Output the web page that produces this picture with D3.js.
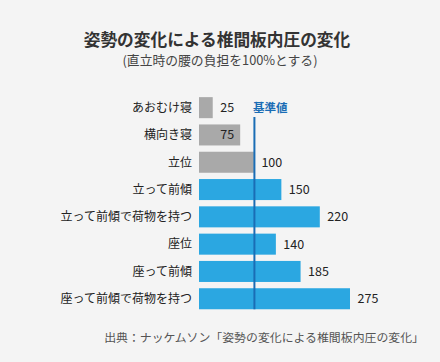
<!DOCTYPE html>
<html>
<head>
<meta charset="utf-8">
<script src="https://cdn.jsdelivr.net/npm/d3@7"></script>
<style>
  body { margin: 0; background: #f4f4f4; }
  svg { display: block; font-family: "Noto Sans CJK JP", "Noto Sans", sans-serif; }
</style>
</head>
<body>
<div id="chart"></div>
<script>
// posture names and pressure (standing = 100)
var postures = ["あおむけ寝", "横向き寝", "立位", "立って前傾", "立って前傾で荷物を持つ", "座位", "座って前傾", "座って前傾で荷物を持つ"]
var pressures = [25, 75, 100, 150, 220, 140, 185, 275]
var baseValue = 100

var W = 440, H = 362

var svg = d3.select("#chart").append("svg")
  .attr("width", W)
  .attr("height", H)

svg.append("rect").attr("width", W).attr("height", H).attr("fill", "#f4f4f4")

// titles
svg.append("text")
  .text("姿勢の変化による椎間板内圧の変化")
  .attr("x", 217).attr("y", 46)
  .attr("text-anchor", "middle")
  .style("font-size", "16.7px").style("font-weight", "bold")
  .style("fill", "#333")

svg.append("text")
  .text("(直立時の腰の負担を100%とする)")
  .attr("x", 220).attr("y", 65)
  .attr("text-anchor", "middle")
  .style("font-size", "12.8px")
  .style("fill", "#444")

var x = d3.scaleLinear().domain([0, 275]).range([199, 350])
var y = d3.scaleBand().domain(postures).range([94, 312.4])
  .paddingInner(0.23).paddingOuter(0.115)

var rows = postures.map(function(p, i){ return {name: p, value: pressures[i]} })

// bars
svg.append("g").selectAll("rect").data(rows).enter()
  .append("rect")
  .attr("x", x(0))
  .attr("y", function(d){ return y(d.name) })
  .attr("width", function(d){ return x(d.value) - x(0) })
  .attr("height", y.bandwidth())
  .style("fill", function(d){ return d.value > baseValue ? "#2ba7e1" : "#a9a9a9" })

// category labels
svg.append("g").selectAll("text").data(rows).enter()
  .append("text")
  .text(function(d){ return d.name })
  .attr("x", 192)
  .attr("y", function(d){ return y(d.name) + y.bandwidth()/2 })
  .attr("dy", "0.36em")
  .attr("text-anchor", "end")
  .style("font-size", "12px")
  .style("fill", "#222")

// value labels (the small ones share one column, like the original)
svg.append("g").selectAll("text").data(rows).enter()
  .append("text")
  .text(function(d){ return d.value })
  .attr("x", function(d){
    var v = d.value < baseValue ? d3.min(pressures) : d.value
    return x(v) + 7.5
  })
  .attr("y", function(d){ return y(d.name) + y.bandwidth()/2 })
  .attr("dy", "0.36em")
  .style("font-size", "12.5px")
  .style("fill", "#222")

// reference line at 100
svg.append("line")
  .attr("x1", x(baseValue) + 0.5).attr("x2", x(baseValue) + 0.5)
  .attr("y1", 117)
  .attr("y2", y(postures[postures.length-1]) + y.bandwidth())
  .style("stroke", "#1a6db5")
  .style("stroke-width", 2)

svg.append("text")
  .text("基準値")
  .attr("x", x(baseValue) - 1).attr("y", 112)
  .style("font-size", "11.5px").style("font-weight", "bold")
  .style("fill", "#1a6db5")

// source
svg.append("text")
  .text("出典：ナッケムソン「姿勢の変化による椎間板内圧の変化」")
  .attr("x", 424).attr("y", 342)
  .attr("text-anchor", "end")
  .style("font-size", "11.9px")
  .style("fill", "#555")
</script>
</body>
</html>
